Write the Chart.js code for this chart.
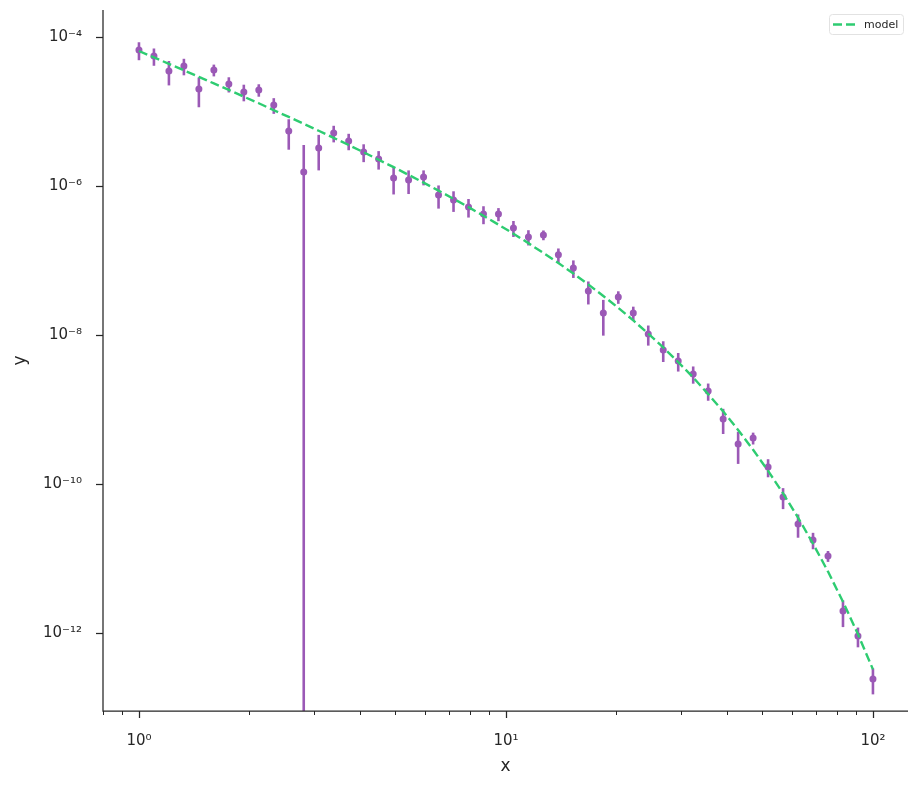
<!DOCTYPE html>
<html>
<head>
<meta charset="utf-8">
<script src="https://cdn.jsdelivr.net/npm/chart.js@4"></script>
<style>
  html, body { margin: 0; padding: 0; background: #ffffff; }
  canvas { display: block; }
</style>
</head>
<body>
<canvas id="c" width="918" height="786"></canvas>
<script>
// ---- data ----
const xValues = [1, 1.0985, 1.2068, 1.3257, 1.4563, 1.5999, 1.7575, 1.9307, 2.1210, 2.3300,
  2.5595, 2.8118, 3.0888, 3.3932, 3.7276, 4.0949, 4.4984, 4.9417, 5.4287, 5.9636,
  6.5513, 7.1969, 7.9060, 8.6851, 9.5410, 10.481, 11.514, 12.649, 13.895, 15.264,
  16.768, 18.421, 20.236, 22.230, 24.421, 26.827, 29.471, 32.375, 35.565, 39.069,
  42.919, 47.149, 51.795, 56.899, 62.506, 68.665, 75.431, 82.864, 91.030, 100];

const yValues = [6.69e-5, 5.56e-5, 3.50e-5, 4.08e-5, 2.00e-5, 3.61e-5, 2.34e-5, 1.83e-5, 1.95e-5, 1.22e-5,
  5.47e-6, 1.54e-6, 3.24e-6, 5.14e-6, 4.02e-6, 2.86e-6, 2.30e-6, 1.28e-6, 1.20e-6, 1.32e-6,
  7.57e-7, 6.49e-7, 5.23e-7, 4.21e-7, 4.21e-7, 2.73e-7, 2.07e-7, 2.20e-7, 1.19e-7, 7.93e-8,
  3.90e-8, 1.97e-8, 3.24e-8, 1.97e-8, 1.03e-8, 6.29e-9, 4.48e-9, 3.00e-9, 1.77e-9, 7.45e-10,
  3.44e-10, 4.14e-10, 1.69e-10, 6.70e-11, 2.90e-11, 1.77e-11, 1.08e-11, 1.97e-12, 9.12e-13, 2.42e-13];

const yErrors = [1.81e-5, 1.45e-5, 1.26e-5, 1.02e-5, 8.6e-6, 6.5e-6, 5.4e-6, 4.6e-6, 3.7e-6, 2.9e-6,
  2.4e-6, 2.0e-6, 1.62e-6, 1.29e-6, 1.0e-6, 7.7e-7, 6.4e-7, 5.1e-7, 4.2e-7, 3.0e-7,
  2.6e-7, 2.0e-7, 1.46e-7, 1.14e-7, 8.4e-8, 6.6e-8, 4.8e-8, 3.3e-8, 2.6e-8, 2.1e-8,
  1.33e-8, 9.9e-9, 6.2e-9, 4.3e-9, 3.1e-9, 1.95e-9, 1.25e-9, 7.8e-10, 4.6e-10, 2.76e-10,
  1.58e-10, 7.5e-11, 4.6e-11, 2.1e-11, 1.0e-11, 4.4e-12, 1.8e-12, 7.7e-13, 2.7e-13, 9.2e-14];

const modelY = [6.49e-5, 5.32e-5, 4.36e-5, 3.57e-5, 2.92e-5, 2.38e-5, 1.95e-5, 1.58e-5, 1.29e-5, 1.04e-5,
  8.45e-6, 6.84e-6, 5.51e-6, 4.43e-6, 3.55e-6, 2.84e-6, 2.25e-6, 1.79e-6, 1.41e-6, 1.11e-6,
  8.67e-7, 6.73e-7, 5.20e-7, 3.98e-7, 3.03e-7, 2.29e-7, 1.71e-7, 1.26e-7, 9.25e-8, 6.68e-8,
  4.76e-8, 3.34e-8, 2.31e-8, 1.57e-8, 1.04e-8, 6.81e-9, 4.33e-9, 2.69e-9, 1.61e-9, 9.44e-10,
  5.32e-10, 2.88e-10, 1.50e-10, 7.48e-11, 3.54e-11, 1.58e-11, 6.67e-12, 2.63e-12, 9.62e-13, 3.25e-13];

const xTickValues = [1, 10, 100];
const xTickLabels = ['10\u2070', '10\u00B9', '10\u00B2'];
const xMinorTicks = [0.8, 0.9, 2, 3, 4, 5, 6, 7, 8, 9, 20, 30, 40, 50, 60, 70, 80, 90];
const yTickValues = [1e-4, 1e-6, 1e-8, 1e-10, 1e-12];
const yTickLabels = ['10\u207B\u2074', '10\u207B\u2076', '10\u207B\u2078', '10\u207B\u00B9\u2070', '10\u207B\u00B9\u00B2'];
const legendLabel = 'model';
const xTitle = 'x';
const yTitle = 'y';

// ---- styles ----
const PURPLE = '#9b59b6';
const GREEN = '#2ecc71';
const INK = '#262626';
const FONT = 'DejaVu Sans';

function findLabel(v, vals, labels) {
  for (let i = 0; i < vals.length; i++) {
    if (Math.abs(Math.log10(v) - Math.log10(vals[i])) < 1e-6) return labels[i];
  }
  return '';
}

function noPad(s) {
  s.paddingTop = 0; s.paddingBottom = 0; s.paddingLeft = 0; s.paddingRight = 0;
}

const decorPlugin = {
  id: 'decor',
  beforeDatasetsDraw(chart) {
    const ctx = chart.ctx;
    const xs = chart.scales.x, ys = chart.scales.y;
    const area = chart.chartArea;
    ctx.save();
    ctx.beginPath();
    ctx.rect(area.left, area.top, area.right - area.left, area.bottom - area.top);
    ctx.clip();
    ctx.strokeStyle = PURPLE;
    ctx.lineWidth = 2.6;
    ctx.lineCap = 'butt';
    for (let i = 0; i < xValues.length; i++) {
      const px = xs.getPixelForValue(xValues[i]);
      const hi = yValues[i] + yErrors[i];
      const lo = yValues[i] - yErrors[i];
      const pTop = ys.getPixelForValue(hi);
      const pBot = lo > 0 ? ys.getPixelForValue(lo) : area.bottom + 5;
      ctx.beginPath();
      ctx.moveTo(px, pTop);
      ctx.lineTo(px, pBot);
      ctx.stroke();
    }
    ctx.restore();
  },
  afterDraw(chart) {
    const ctx = chart.ctx;
    const xs = chart.scales.x, ys = chart.scales.y;
    const area = chart.chartArea;
    ctx.save();
    ctx.strokeStyle = INK;
    ctx.lineWidth = 1.25;
    // spines
    ctx.beginPath();
    ctx.moveTo(area.left, area.top);
    ctx.lineTo(area.left, area.bottom);
    ctx.lineTo(area.right, area.bottom);
    ctx.stroke();
    // x ticks
    ctx.lineWidth = 1.25;
    xTickValues.forEach(v => {
      const px = Math.round(xs.getPixelForValue(v)) + 0.5;
      ctx.beginPath(); ctx.moveTo(px, area.bottom); ctx.lineTo(px, area.bottom + 7); ctx.stroke();
    });
    ctx.lineWidth = 1;
    xMinorTicks.forEach(v => {
      const px = Math.round(xs.getPixelForValue(v)) + 0.5;
      if (px < area.left - 1 || px > area.right + 1) return;
      ctx.beginPath(); ctx.moveTo(px, area.bottom); ctx.lineTo(px, area.bottom + 4); ctx.stroke();
    });
    // y ticks
    ctx.lineWidth = 1.25;
    yTickValues.forEach(v => {
      const py = Math.round(ys.getPixelForValue(v)) + 0.5;
      ctx.beginPath(); ctx.moveTo(area.left, py); ctx.lineTo(area.left - 7, py); ctx.stroke();
    });
    // legend
    const bx = 829, by = 14, bw = 74, bh = 20;
    ctx.fillStyle = 'rgba(255,255,255,0.85)';
    ctx.strokeStyle = '#e2e2e2';
    ctx.lineWidth = 1;
    ctx.beginPath();
    ctx.roundRect(bx + 0.5, by + 0.5, bw, bh, 3);
    ctx.fill();
    ctx.stroke();
    ctx.strokeStyle = GREEN;
    ctx.lineWidth = 2.4;
    ctx.setLineDash([9, 4]);
    ctx.beginPath();
    ctx.moveTo(bx + 4, by + 10.5);
    ctx.lineTo(bx + 26, by + 10.5);
    ctx.stroke();
    ctx.setLineDash([]);
    ctx.fillStyle = INK;
    ctx.font = '11px "' + FONT + '"';
    ctx.textBaseline = 'middle';
    ctx.textAlign = 'left';
    ctx.fillText(legendLabel, bx + 35, by + 11);
    ctx.restore();
  }
};

new Chart(document.getElementById('c'), {
  type: 'scatter',
  data: {
    datasets: [
      {
        label: 'data',
        data: xValues.map((x, i) => ({ x: x, y: yValues[i] })),
        backgroundColor: PURPLE,
        borderColor: PURPLE,
        pointRadius: 3.5,
        pointBorderWidth: 0,
        pointHoverRadius: 3.5,
        order: 2
      },
      {
        label: legendLabel,
        type: 'line',
        data: xValues.map((x, i) => ({ x: x, y: modelY[i] })),
        borderColor: GREEN,
        backgroundColor: GREEN,
        borderWidth: 2.4,
        borderDash: [9, 4],
        pointRadius: 0,
        fill: false,
        tension: 0,
        order: 1
      }
    ]
  },
  options: {
    responsive: false,
    animation: false,
    devicePixelRatio: 1,
    layout: { padding: { top: 10, right: 10, left: 0, bottom: 0 } },
    plugins: { legend: { display: false }, tooltip: { enabled: false } },
    scales: {
      x: {
        type: 'logarithmic',
        position: 'bottom',
        min: 0.798,
        max: 124.6,
        grid: { display: false, drawTicks: false },
        border: { display: false },
        afterBuildTicks: s => { s.ticks = xTickValues.map(v => ({ value: v })); },
        afterFit: s => { s.height = 75; noPad(s); },
        ticks: {
          autoSkip: false, maxRotation: 0, minRotation: 0,
          color: INK, padding: 21,
          font: { family: FONT, size: 15 },
          callback: v => findLabel(v, xTickValues, xTickLabels)
        },
        title: { display: true, text: xTitle, color: INK, font: { family: FONT, size: 17 }, padding: { top: 0, bottom: 9 } }
      },
      y: {
        type: 'logarithmic',
        position: 'left',
        min: 8.97e-14,
        max: 2.304e-4,
        grid: { display: false, drawTicks: false },
        border: { display: false },
        afterBuildTicks: s => { s.ticks = yTickValues.map(v => ({ value: v })); },
        afterFit: s => { s.width = 103; noPad(s); },
        ticks: {
          autoSkip: false,
          color: INK, padding: 21,
          font: { family: FONT, size: 15 },
          callback: v => findLabel(v, yTickValues, yTickLabels)
        },
        title: { display: true, text: yTitle, color: INK, font: { family: FONT, size: 17 }, padding: { top: 10, bottom: 0 } }
      }
    }
  },
  plugins: [decorPlugin]
});
</script>
</body>
</html>
